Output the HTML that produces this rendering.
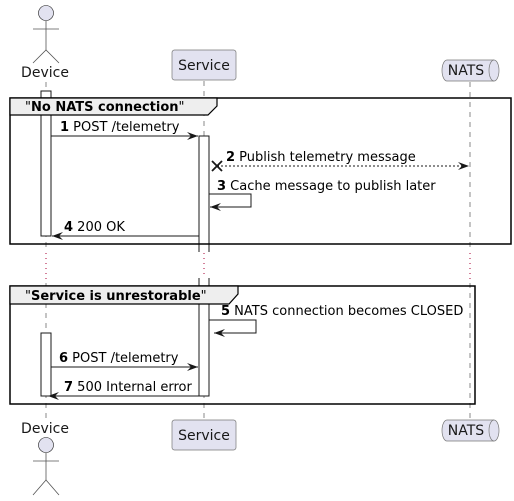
<!DOCTYPE html>
<html><head><meta charset="utf-8"><style>
html,body{margin:0;padding:0;background:#fff;}
svg{display:block;font-family:"DejaVu Sans","Liberation Sans",sans-serif;}
</style></head><body>
<svg width="514" height="501" viewBox="0 0 514 501" xmlns="http://www.w3.org/2000/svg">
<defs>
<marker id="ah" markerWidth="12" markerHeight="10" refX="11" refY="5" orient="auto" markerUnits="userSpaceOnUse">
<path d="M0,1 L11,5 L0,9 L4,5 Z" fill="#181818"/>
</marker>
</defs>
<g stroke="#888" stroke-width="1" stroke-dasharray="5,5">
<line x1="46" y1="82" x2="46" y2="252"/>
<line x1="46" y1="283" x2="46" y2="420"/>
<line x1="204" y1="81" x2="204" y2="252"/>
<line x1="204" y1="283" x2="204" y2="420"/>
<line x1="470" y1="82" x2="470" y2="252"/>
<line x1="470" y1="283" x2="470" y2="420"/>
</g>
<g stroke="#a80036" stroke-width="1" stroke-dasharray="1,4">
<line x1="46" y1="253" x2="46" y2="282"/>
<line x1="204" y1="253" x2="204" y2="282"/>
<line x1="470" y1="253" x2="470" y2="282"/>
</g>
<circle cx="46" cy="13" r="7.5" fill="#e2e2f0" stroke="#181818" stroke-width="0.6"/>
<g stroke="#555" stroke-width="0.8" fill="none">
<line x1="46" y1="21" x2="46" y2="50"/>
<line x1="33" y1="29" x2="59" y2="29"/>
<polyline points="33,63 46,50 59,63"/>
</g>
<text x="45" y="77" font-size="14" text-anchor="middle" fill="#181818">Device</text>
<rect x="172" y="50" width="64" height="30" rx="2.5" fill="#e2e2f0" stroke="#777" stroke-width="0.7"/>
<text x="204" y="70" font-size="14" text-anchor="middle" fill="#181818">Service</text>
<path d="M447,60 L494,60 A5,10.5 0 0 1 494,81 L447,81 A5,10.5 0 0 1 447,60 Z" fill="#e2e2f0" stroke="#777" stroke-width="0.7"/>
<path d="M494,60 A5,10.5 0 0 0 494,81" fill="none" stroke="#777" stroke-width="0.7"/>
<text x="466" y="75" font-size="14" text-anchor="middle" fill="#181818">NATS</text>
<text x="45" y="433" font-size="14" text-anchor="middle" fill="#181818">Device</text>
<circle cx="46" cy="445" r="7.5" fill="#e2e2f0" stroke="#181818" stroke-width="0.6"/>
<g stroke="#555" stroke-width="0.8" fill="none">
<line x1="46" y1="453" x2="46" y2="480"/>
<line x1="33" y1="461" x2="59" y2="461"/>
<polyline points="33,495 46,480 59,495"/>
</g>
<rect x="172" y="420" width="64" height="30" rx="2.5" fill="#e2e2f0" stroke="#777" stroke-width="0.7"/>
<text x="204" y="440" font-size="14" text-anchor="middle" fill="#181818">Service</text>
<path d="M447,420 L494,420 A5,10.5 0 0 1 494,441 L447,441 A5,10.5 0 0 1 447,420 Z" fill="#e2e2f0" stroke="#777" stroke-width="0.7"/>
<path d="M494,420 A5,10.5 0 0 0 494,441" fill="none" stroke="#777" stroke-width="0.7"/>
<text x="466" y="435" font-size="14" text-anchor="middle" fill="#181818">NATS</text>
<g fill="#fff" stroke="#181818" stroke-width="1">
<rect x="41" y="91" width="10" height="145"/>
<path d="M199,252 L199,136 L209,136 L209,252"/>
<path d="M199,278 L199,396 L209,396 L209,278"/>
<rect x="41" y="333" width="10" height="63"/>
</g>
<rect x="10" y="98" width="501" height="146" fill="none" stroke="#000" stroke-width="1.5"/>
<path d="M10,98 L217,98 L217,106 L208,115 L10,115 Z" fill="#eee" stroke="#000" stroke-width="1.2"/>
<text x="25" y="111" font-size="13" fill="#000"><tspan>"</tspan><tspan font-weight="bold">No NATS connection</tspan><tspan>"</tspan></text>
<rect x="10" y="286" width="465" height="118" fill="none" stroke="#000" stroke-width="1.5"/>
<path d="M10,286 L238,286 L238,294 L229,304 L10,304 Z" fill="#eee" stroke="#000" stroke-width="1.2"/>
<text x="25" y="300" font-size="13" fill="#000"><tspan>"</tspan><tspan font-weight="bold">Service is unrestorable</tspan><tspan>"</tspan></text>
<g stroke="#181818" stroke-width="1" fill="none">
<line x1="51" y1="136" x2="198" y2="136" marker-end="url(#ah)"/>
<line x1="217" y1="166" x2="469" y2="166" stroke-dasharray="2,2" marker-end="url(#ah)"/>
<path d="M212,161 L222,171 M222,161 L212,171" stroke-width="1.8"/>
<polyline points="209,194 251,194 251,207 210,207" marker-end="url(#ah)"/>
<line x1="199" y1="236" x2="52" y2="236" marker-end="url(#ah)"/>
<polyline points="209,320 256,320 256,333 214,333" marker-end="url(#ah)"/>
<line x1="51" y1="367" x2="198" y2="367" marker-end="url(#ah)"/>
<line x1="199" y1="396" x2="48" y2="396" marker-end="url(#ah)"/>
</g>
<g font-size="13" fill="#000">
<text x="60" y="131"><tspan font-weight="bold">1</tspan> POST /telemetry</text>
<text x="226" y="161"><tspan font-weight="bold">2</tspan> Publish telemetry message</text>
<text x="217" y="190"><tspan font-weight="bold">3</tspan> Cache message to publish later</text>
<text x="64" y="231"><tspan font-weight="bold">4</tspan> 200 OK</text>
<text x="221" y="315"><tspan font-weight="bold">5</tspan> NATS connection becomes CLOSED</text>
<text x="59" y="362"><tspan font-weight="bold">6</tspan> POST /telemetry</text>
<text x="64" y="391"><tspan font-weight="bold">7</tspan> 500 Internal error</text>
</g>
</svg>
</body></html>
